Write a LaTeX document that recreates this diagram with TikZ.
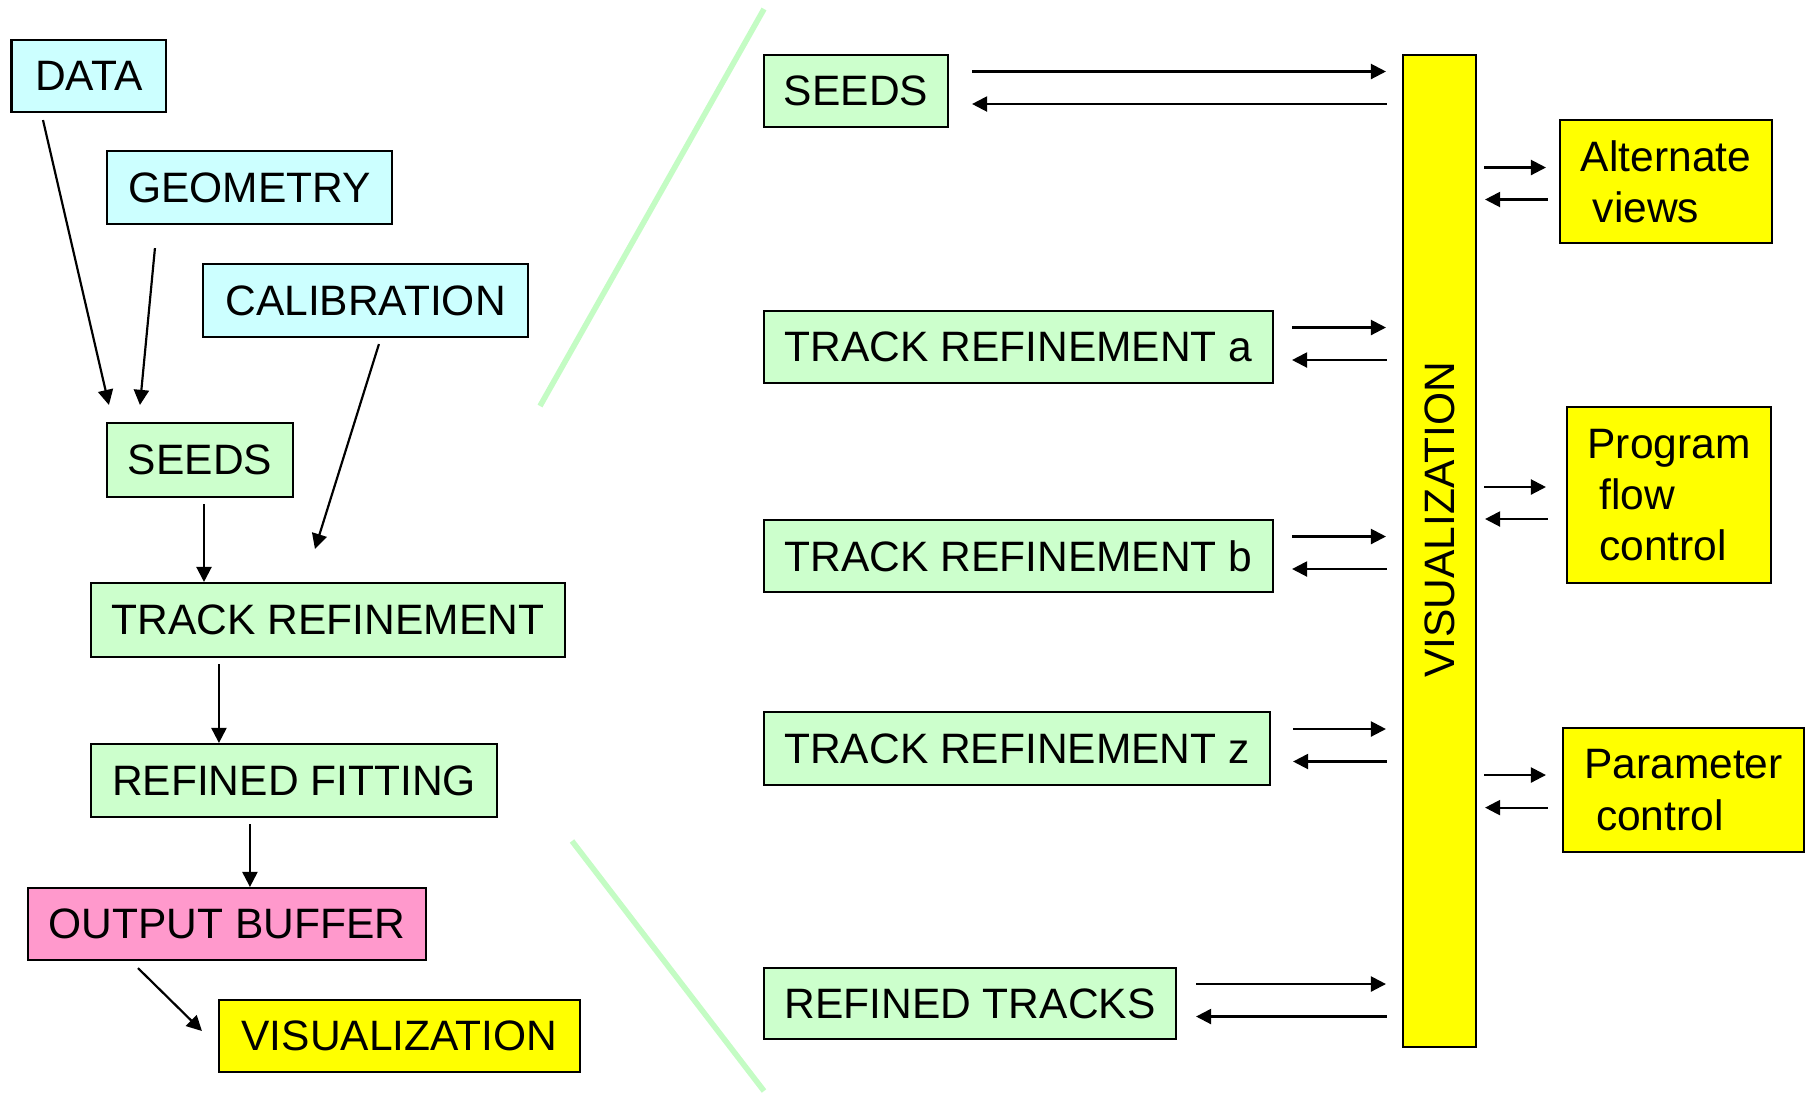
\documentclass[tikz,border=0pt]{standalone}
\usepackage{fontspec}
\setmainfont{Liberation Sans}
\usetikzlibrary{calc,arrows.meta}
\definecolor{cyanbox}{HTML}{CCFFFF}
\definecolor{greenbox}{HTML}{CCFFCC}
\definecolor{pinkbox}{HTML}{FF99CC}
\definecolor{yellowbox}{HTML}{FFFF00}
\definecolor{divider}{HTML}{C4FCC4}
\newcommand\indentline{\hspace*{0.278em}}

\begin{document}
\begin{tikzpicture}[x=0.1mm,y=-0.1mm,
  box/.style={draw=black,line width=0.6pt,inner sep=0pt,
    font=\fontsize{12.1}{14.6}\selectfont},
  input/.style={box,fill=cyanbox},
  stage/.style={box,fill=greenbox},
  buffer/.style={box,fill=pinkbox},
  viewer/.style={box,fill=yellowbox},
  arr/.style={line width=0.62pt,-{Triangle[length=4.3pt,width=4.3pt]}},
  divline/.style={draw=divider,line width=1.6pt}]
\useasboundingbox (0,0) rectangle (1809,1095);

% dividing strokes between overview and detail
\draw[divline] (764,9) -- (540,406);
\draw[divline] (572,841) -- (764,1091);

% ---- overview chain ----
\node[input,minimum width=15.45mm,minimum height=7.2mm] (data) at (88.8,76) {DATA};
\node[input,minimum width=28.5mm,minimum height=7.3mm] (geom) at (249.5,187.5) {GEOMETRY};
\node[input,minimum width=32.5mm,minimum height=7.3mm] (calib) at (365.5,300.5) {CALIBRATION};
\node[stage,minimum width=18.6mm,minimum height=7.4mm] (seedsL) at (200,460) {SEEDS};
\node[stage,minimum width=47.4mm,minimum height=7.4mm] (trL) at (328,620) {TRACK REFINEMENT};
\node[stage,minimum width=40.6mm,minimum height=7.3mm] (rf) at (294,780.5) {REFINED FITTING};
\node[buffer,minimum width=39.8mm,minimum height=7.2mm] (ob) at (227,924) {OUTPUT BUFFER};
\node[viewer,minimum width=36.1mm,minimum height=7.2mm] (visL) at (399.5,1036) {VISUALIZATION};

\draw[arr] ($(data.south west)+(32.5,7)$) -- ($(seedsL.north west)+(3,-17)$);
\draw[arr] ($(geom.south west)+(49,23)$) -- ($(seedsL.north west)+(34,-17)$);
\draw[arr] ($(calib.south west)+(177,6)$) -- ($(trL.north west)+(225,-33)$);
\draw[arr] ($(seedsL.south)+(4,6)$) -- ($(seedsL.south |- trL.north)+(4,0)$);
\draw[arr] ($(trL.south west)+(129,6)$) -- ($(trL.south west |- rf.north)+(129,0)$);
\draw[arr] ($(rf.south west)+(160,6)$) -- ($(rf.south west |- ob.north)+(160,0)$);
\draw[arr] ($(ob.south west)+(111,7)$) -- ($(visL.west)+(-16,-5)$);

% ---- detail: stages talking to the viewer ----
\node[stage,minimum width=18.4mm,minimum height=7.2mm] (seedsR) at (856,91) {SEEDS};
\node[stage,minimum width=50.9mm,minimum height=7.2mm] (tra) at (1018.5,347) {TRACK REFINEMENT a};
\node[stage,minimum width=50.9mm,minimum height=7.2mm] (trb) at (1018.5,556) {TRACK REFINEMENT b};
\node[stage,minimum width=50.6mm,minimum height=7.3mm] (trz) at (1017,748.5) {TRACK REFINEMENT z};
\node[stage,minimum width=41.2mm,minimum height=7.1mm] (rt) at (970,1003.5) {REFINED TRACKS};

\node[viewer,minimum width=7.3mm,minimum height=99.2mm] (visR) at (1439.5,551) {};
\node[font=\fontsize{12.1}{14.6}\selectfont,rotate=90,inner sep=0pt] (visRlabel)
  at ($(visR.center)+(0,-31)$) {VISUALIZATION};

\node[viewer,minimum width=21.2mm,minimum height=12.3mm,align=left] (alt) at (1666,181.5)
  {Alternate\\\indentline views};
\node[viewer,minimum width=20.4mm,minimum height=17.6mm,align=left] (pfc) at (1669,495)
  {Program\\\indentline flow\\\indentline control};
\node[viewer,minimum width=24.1mm,minimum height=12.4mm,align=left] (par) at (1683.5,790)
  {Parameter\\\indentline control};

\foreach \n/\g in {seedsR/23, tra/18, trb/18, trz/22, rt/19} {
  \draw[arr] ($(\n.east)+(\g,-19.5)$) -- ($(\n.east -| visR.west)+(-16,-19.5)$);
  \draw[arr] ($(\n.east -| visR.west)+(-15,13)$) -- ($(\n.east)+(\g,13)$);
}

\foreach \n/\g/\a/\b in {alt/13/-14/18, pfc/20/-8/24, par/16/-15/17.6} {
  \draw[arr] ($(visR.east |- \n.west)+(7,\a)$) -- ($(\n.west)+(-\g,\a)$);
  \draw[arr] ($(\n.west)+(-\g+2,\b)$) -- ($(visR.east |- \n.west)+(8,\b)$);
}
\end{tikzpicture}
\end{document}
